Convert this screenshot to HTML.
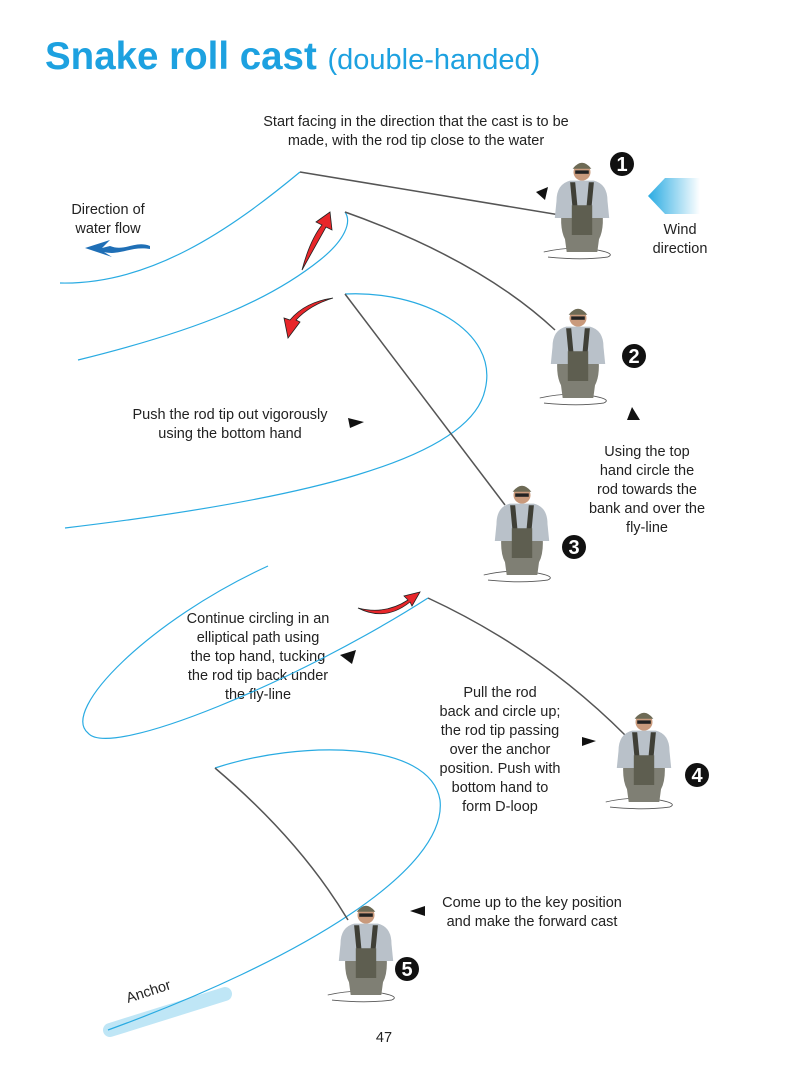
<!DOCTYPE html>
<html><head><style>
body{margin:0;background:#fff}
svg text{font-family:"Liberation Sans",sans-serif}
</style></head><body>
<svg width="805" height="1077" viewBox="0 0 805 1077" xmlns="http://www.w3.org/2000/svg">
<defs>
<linearGradient id="wg" x1="0" x2="1"><stop offset="0" stop-color="#29abe2"/><stop offset="1" stop-color="#29abe2" stop-opacity="0"/></linearGradient>
<g id="man0">
  <path d="M-45,60 Q-10,52 20,58 Q40,62 30,66 Q0,70 -40,66" fill="none" stroke="#555" stroke-width="1"/>
  <path d="M-22,-2 Q-28,30 -20,45 L-18,60 L18,60 L20,45 Q28,30 22,-2 Z" fill="#7f7f74"/>
  <path d="M-30,0 Q-30,-20 -14,-24 L14,-24 Q30,-20 30,0 L32,20 L-32,20 Z" fill="#b9c1c9"/>
  <path d="M-14,-22 L-10,20 L10,20 L14,-22 L8,-22 L5,10 L-5,10 L-8,-22 Z" fill="#3f3f36"/>
  <rect x="-12" y="5" width="24" height="35" fill="#5e5e50"/>
  <circle cx="0" cy="-34" r="10" fill="#c99a7c"/>
  <path d="M-11,-38 Q0,-52 11,-38 Z" fill="#6d6a55"/>
  <rect x="-8" y="-36" width="16" height="4" fill="#222"/>
</g>
<g id="man"><use href="#man0" transform="scale(0.85)"/></g>
</defs>
<text x="45" y="69" font-size="38.5" font-weight="bold" fill="#1da1e0">Snake roll cast <tspan font-size="29" font-weight="normal">(double-handed)</tspan></text>

<g font-size="14.5" fill="#222" text-anchor="middle">
<text x="416" y="126">Start facing in the direction that the cast is to be</text>
<text x="416" y="145">made, with the rod tip close to the water</text>
<text x="108" y="214">Direction of</text><text x="108" y="233">water flow</text>
<text x="680" y="234">Wind</text><text x="680" y="253">direction</text>
<text x="230" y="419">Push the rod tip out vigorously</text><text x="230" y="438">using the bottom hand</text>
<text x="647" y="456">Using the top</text><text x="647" y="475">hand circle the</text><text x="647" y="494">rod towards the</text><text x="647" y="513">bank and over the</text><text x="647" y="532">fly-line</text>
<text x="258" y="623">Continue circling in an</text><text x="258" y="642">elliptical path using</text><text x="258" y="661">the top hand, tucking</text><text x="258" y="680">the rod tip back under</text><text x="258" y="699">the fly-line</text>
<text x="500" y="697">Pull the rod</text><text x="500" y="716">back and circle up;</text><text x="500" y="735">the rod tip passing</text><text x="500" y="754">over the anchor</text><text x="500" y="773">position. Push with</text><text x="500" y="792">bottom hand to</text><text x="500" y="811">form D-loop</text>
<text x="532" y="907">Come up to the key position</text><text x="532" y="926">and make the forward cast</text>
<text x="384" y="1042">47</text>
</g>
<text x="128" y="1003" font-size="14.5" fill="#222" transform="rotate(-18 128 1003)">Anchor</text>

<path d="M648,196 L665,178 L700,178 L700,214 L665,214 Z" fill="url(#wg)"/>
<path d="M150,246 C135,240 125,252 110,246 L102,248 L110,240 L85,248 L112,257 L104,252 C120,256 130,246 150,249 Z" fill="#1f6fb6"/>

<path d="M110,1030 L225,994" stroke="#bfe6f6" stroke-width="14" stroke-linecap="round"/>

<g fill="none" stroke="#29abe2" stroke-width="1.2">
<path d="M60,283 C150,285 230,230 300,172"/>
<path d="M78,360 C200,330 270,300 320,260 C345,240 352,222 345,212"/>
<path d="M345,294 C420,290 500,330 485,390 C470,460 300,500 65,528"/>
<path d="M268,566 C150,620 60,710 88,733 C110,760 300,680 428,598"/>
<path d="M215,768 C300,740 430,740 440,800 C448,870 300,960 108,1030"/>
</g>

<g fill="none" stroke="#555" stroke-width="1.5">
<path d="M300,172 L560,215"/>
<path d="M345,212 Q480,260 555,330"/>
<path d="M345,294 L505,505"/>
<path d="M428,598 Q540,650 625,735"/>
<path d="M215,768 Q300,840 348,920"/>
</g>

<g fill="#e8262a" stroke="#222" stroke-width="0.8">
<path d="M302,270 Q310,240 322,225 L316,222 L330,212 L332,230 L326,227 Q316,245 302,270 Z"/>
<path d="M333,298 Q310,305 296,320 L300,322 L288,338 L284,318 L290,320 Q305,302 333,298 Z"/>
<path d="M358,608 Q385,615 408,600 L404,596 L420,592 L412,606 L410,602 Q385,622 358,608 Z"/>
</g>

<g fill="#111">
<path d="M536,192 L548,187 L545,200 Z"/>
<path d="M348,418 L364,422 L350,428 Z"/>
<path d="M632,407 L627,420 L640,420 Z"/>
<path d="M340,655 L356,650 L352,664 Z"/>
<path d="M582,737 L596,741 L582,746 Z"/>
<path d="M410,911 L425,906 L425,916 Z"/>
</g>

<use href="#man" x="582" y="201"/>
<use href="#man" x="578" y="347"/>
<use href="#man" x="522" y="524"/>
<use href="#man" x="644" y="751"/>
<use href="#man" x="366" y="944"/>

<g font-size="20" font-weight="bold" fill="#fff" text-anchor="middle">
<circle cx="622" cy="164" r="12" fill="#111"/><text x="622" y="171">1</text>
<circle cx="634" cy="356" r="12" fill="#111"/><text x="634" y="363">2</text>
<circle cx="574" cy="547" r="12" fill="#111"/><text x="574" y="554">3</text>
<circle cx="697" cy="775" r="12" fill="#111"/><text x="697" y="782">4</text>
<circle cx="407" cy="969" r="12" fill="#111"/><text x="407" y="976">5</text>
</g>
</svg>
</body></html>
